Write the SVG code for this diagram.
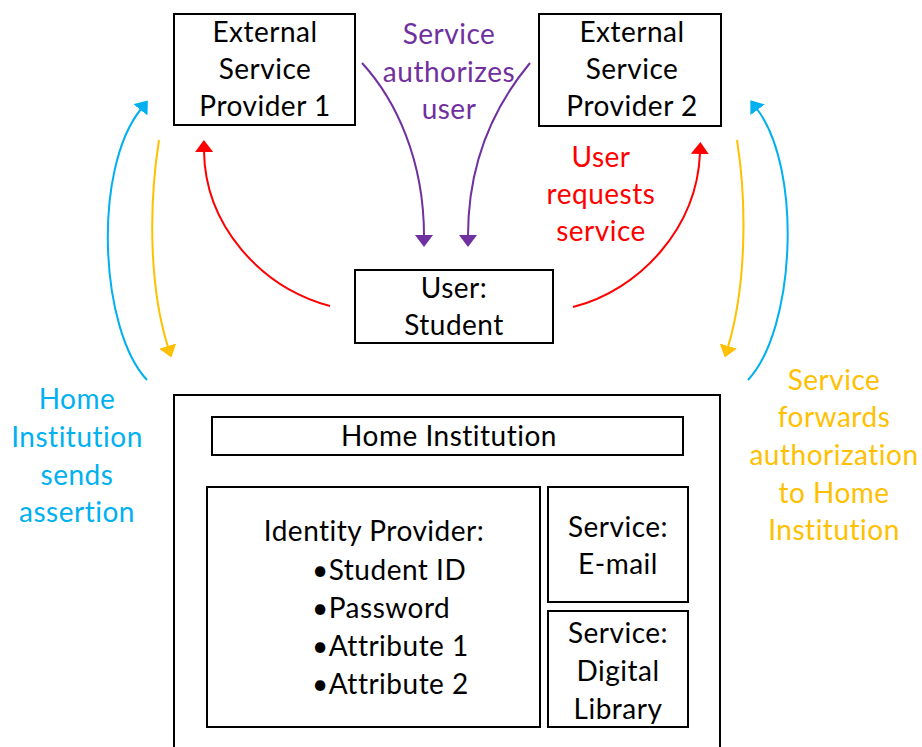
<svg xmlns="http://www.w3.org/2000/svg" width="922" height="747" viewBox="0 0 922 747">
  <style>
    .box { fill: #ffffff; stroke: #000000; stroke-width: 2; }
    .t { font-family: Lato, "Liberation Sans", sans-serif; font-size: 28px; letter-spacing: 0.5px; text-anchor: middle; fill: #000000; }
    .tl { font-family: Lato, "Liberation Sans", sans-serif; font-size: 28px; letter-spacing: 0.5px; fill: #000000; }
    .purple { fill: #7030A0; }
    .red { fill: #FF0000; }
    .blue { fill: #00B0F0; }
    .orange { fill: #FFC000; }
    .arc { fill: none; stroke-width: 2; }
  </style>
  <defs>
    <marker id="ah-purple" markerUnits="userSpaceOnUse" viewBox="0 0 12 18" markerWidth="12" markerHeight="18" refX="1" refY="9" orient="auto">
      <path d="M0,0 L12,9 L0,18 z" fill="#7030A0"/>
    </marker>
    <marker id="ah-red" markerUnits="userSpaceOnUse" viewBox="0 0 12 18" markerWidth="12" markerHeight="18" refX="1" refY="9" orient="auto">
      <path d="M0,0 L12,9 L0,18 z" fill="#FF0000"/>
    </marker>
    <marker id="ah-blue" markerUnits="userSpaceOnUse" viewBox="0 0 12 18" markerWidth="12" markerHeight="18" refX="1" refY="9" orient="auto">
      <path d="M0,0 L12,9 L0,18 z" fill="#00B0F0"/>
    </marker>
    <marker id="ah-orange" markerUnits="userSpaceOnUse" viewBox="0 0 12 18" markerWidth="12" markerHeight="18" refX="1" refY="9" orient="auto">
      <path d="M0,0 L12,9 L0,18 z" fill="#FFC000"/>
    </marker>
  </defs>

  <rect width="922" height="747" fill="#ffffff"/>

  <!-- connectors -->
  <g id="connectors">
    <path class="arc" stroke="#7030A0" marker-end="url(#ah-purple)" d="M362,63 C396,100 424,160 424,236"/>
    <path class="arc" stroke="#7030A0" marker-end="url(#ah-purple)" d="M530,63 C495,105 468,160 468,236"/>
    <path class="arc" stroke="#FF0000" marker-end="url(#ah-red)" d="M330,306 C260,287 205,225 204,151"/>
    <path class="arc" stroke="#FF0000" marker-end="url(#ah-red)" d="M573,307 C640,290 697,228 700,153"/>
    <path class="arc" stroke="#00B0F0" marker-end="url(#ah-blue)" d="M147,380 C100,330 92,170 141,109"/>
    <path class="arc" stroke="#FFC000" marker-end="url(#ah-orange)" d="M159,140 C148,210 150,290 168,347"/>
    <path class="arc" stroke="#00B0F0" marker-end="url(#ah-blue)" d="M748,380 C795,330 803,170 757,109"/>
    <path class="arc" stroke="#FFC000" marker-end="url(#ah-orange)" d="M737,140 C748,210 745,290 728,347"/>
  </g>

  <!-- connector labels -->
  <g id="label-authorizes">
    <text class="t purple" x="449" y="44">Service</text>
    <text class="t purple" x="449" y="82">authorizes</text>
    <text class="t purple" x="449" y="119">user</text>
  </g>
  <g id="label-requests">
    <text class="t red" x="601" y="167">User</text>
    <text class="t red" x="601" y="204">requests</text>
    <text class="t red" x="601" y="241">service</text>
  </g>
  <g id="label-assertion">
    <text class="t blue" x="77" y="409">Home</text>
    <text class="t blue" x="77" y="447">Institution</text>
    <text class="t blue" x="77" y="485">sends</text>
    <text class="t blue" x="77" y="522">assertion</text>
  </g>
  <g id="label-forwards">
    <text class="t orange" x="834" y="390">Service</text>
    <text class="t orange" x="834" y="427">forwards</text>
    <text class="t orange" x="834" y="465">authorization</text>
    <text class="t orange" x="834" y="503">to Home</text>
    <text class="t orange" x="834" y="540">Institution</text>
  </g>

  <!-- nodes -->
  <g id="esp1">
    <rect class="box" x="174" y="14" width="181" height="111"/>
    <text class="t" x="265" y="42">External</text>
    <text class="t" x="265" y="79">Service</text>
    <text class="t" x="265" y="116">Provider 1</text>
  </g>
  <g id="esp2">
    <rect class="box" x="539" y="14" width="182" height="112"/>
    <text class="t" x="632" y="42">External</text>
    <text class="t" x="632" y="79">Service</text>
    <text class="t" x="632" y="116">Provider 2</text>
  </g>
  <g id="user">
    <rect class="box" x="355" y="270" width="198" height="73"/>
    <text class="t" x="454" y="298">User:</text>
    <text class="t" x="454" y="335">Student</text>
  </g>
  <g id="home">
    <rect class="box" x="174" y="395" width="546" height="360"/>
    <g id="home-title">
      <rect class="box" x="212" y="417" width="471" height="38"/>
      <text class="t" x="449" y="446">Home Institution</text>
    </g>
    <g id="idp">
      <rect class="box" x="207" y="487" width="333" height="240"/>
      <text class="t" x="374" y="541">Identity Provider:</text>
      <text class="tl" x="312" y="580">•Student ID</text>
      <text class="tl" x="312" y="618">•Password</text>
      <text class="tl" x="312" y="656">•Attribute 1</text>
      <text class="tl" x="312" y="694">•Attribute 2</text>
    </g>
    <g id="svc-email">
      <rect class="box" x="548" y="487" width="140" height="115"/>
      <text class="t" x="618" y="537">Service:</text>
      <text class="t" x="618" y="574">E-mail</text>
    </g>
    <g id="svc-library">
      <rect class="box" x="548" y="611" width="140" height="116"/>
      <text class="t" x="618" y="643">Service:</text>
      <text class="t" x="618" y="681">Digital</text>
      <text class="t" x="618" y="719">Library</text>
    </g>
  </g>
</svg>
